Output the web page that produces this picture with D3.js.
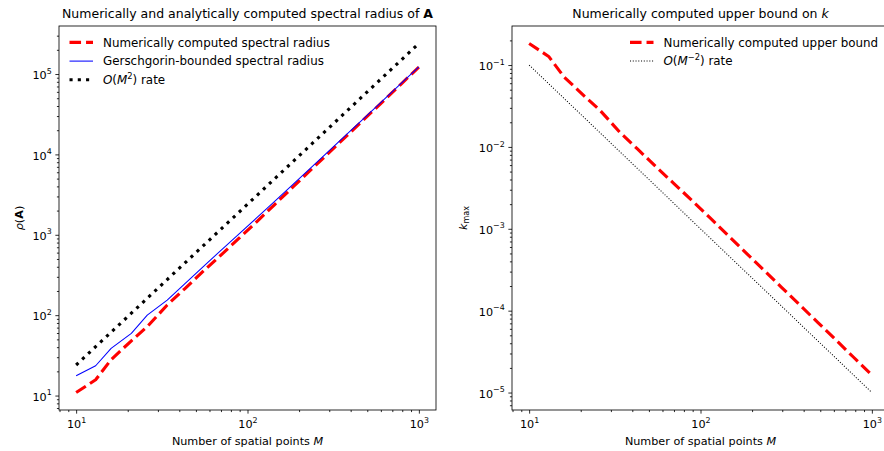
<!DOCTYPE html>
<html><head><meta charset="utf-8">
<script src="https://cdn.jsdelivr.net/npm/d3@7"></script>
<style>body{margin:0;background:#fff} text{font-family:"DejaVu Sans",sans-serif;fill:#000}</style>
</head><body><svg id="c" width="884" height="451"></svg>
<script>
// ---- data ----
const M = [10, 13, 16, 21, 26, 34, 43, 55, 70, 89, 113, 144, 183, 234, 298, 379, 483, 616, 785, 1000];
const rhoNumerical = [10.9, 15.7, 28, 48, 72, 134, 213, 350, 560, 900, 1450, 2380, 3880, 6400, 10450, 17000, 27800, 45500, 74500, 122000];
const rhoGerschgorin = [17.6, 23.5, 38.7, 59.5, 100, 154, 245, 400, 640, 1020, 1620, 2610, 4190, 6820, 11000, 17700, 28700, 46600, 75800, 122800];
const rateM2 = [24, 40.6, 61.4, 105.8, 162.2, 277.4, 443.8, 726, 1176, 1901, 3065, 4977, 8037, 13141, 21313, 34474, 55989, 91069, 147894, 240000];
const kMax = [0.1835, 0.1274, 0.0714, 0.0417, 0.0278, 0.01493, 0.00939, 0.00571, 0.00357, 0.00222, 0.00138, 0.00084, 0.000515, 0.0003125, 0.0001914, 0.0001176, 0.0000719, 0.0000440, 0.0000268, 0.0000164];
const rateMm2 = [0.1, 0.0592, 0.0391, 0.0227, 0.0148, 0.00865, 0.00541, 0.00331, 0.00204, 0.00126, 0.000783, 0.000482, 0.000299, 0.000183, 0.000113, 0.0000696, 0.0000429, 0.0000264, 0.0000162, 0.00001];
const xTickValues = [10, 100, 1000];
const xTickExp = ["1", "2", "3"];
const yTickValuesLeft = [10, 100, 1000, 10000, 100000];
const yTickExpLeft = ["1", "2", "3", "4", "5"];
const yTickValuesRight = [1e-1, 1e-2, 1e-3, 1e-4, 1e-5];
const yTickExpRight = ["\u22121", "\u22122", "\u22123", "\u22124", "\u22125"];
const legendLeft = ["Numerically computed spectral radius", "Gerschgorin-bounded spectral radius", "rate"];
const legendRight = ["Numerically computed upper bound", "rate"];

// ---- layout ----
const k = 1.04; // px per pt
const svg = d3.select("#c");
const TICKFS = 11.2, LEGFS = 11.9, LABFS = 11.2, TFS = 12.5, SUPFS = 7.9;
const plotTop = 26, plotBottom = 410, W = 377;

function logDomain(arrs) {
  const all = arrs.flat();
  const lo = Math.log10(d3.min(all)), hi = Math.log10(d3.max(all));
  const m = 0.05 * (hi - lo);
  return [Math.pow(10, lo - m), Math.pow(10, hi + m)];
}
function minors(dom) {
  const out = [];
  for (let d = Math.floor(Math.log10(dom[0])) - 1; d <= Math.ceil(Math.log10(dom[1])); d++)
    for (let m = 2; m <= 9; m++) { const v = m * Math.pow(10, d); if (v >= dom[0] && v <= dom[1]) out.push(v); }
  return out;
}
function supLabel(sel, exps, vals) {
  sel.selectAll(".tick text").each(function(d) {
    const t = d3.select(this); t.text(null);
    const i = vals.indexOf(d);
    t.append("tspan").text("10");
    t.append("tspan").attr("dy", -5.5).attr("font-size", SUPFS).text(exps[i]);
  });
}

function panel(cfg) {
  const g = svg.append("g");
  const x = d3.scaleLog().domain(logDomain([M])).range([cfg.x0, cfg.x0 + W]);
  const y = d3.scaleLog().domain(logDomain(cfg.series.map(s => s.v))).range([plotBottom, plotTop]);

  // minor ticks
  g.append("g").attr("transform", `translate(0,${plotBottom})`)
    .call(d3.axisBottom(x).tickValues(minors(x.domain())).tickSize(2 * k).tickSizeOuter(0).tickFormat(""))
    .call(a => a.select(".domain").remove());
  g.append("g").attr("transform", `translate(${cfg.x0},0)`)
    .call(d3.axisLeft(y).tickValues(minors(y.domain())).tickSize(2 * k).tickSizeOuter(0).tickFormat(""))
    .call(a => a.select(".domain").remove());
  // major ticks
  const ax = g.append("g").attr("transform", `translate(0,${plotBottom})`)
    .call(d3.axisBottom(x).tickValues(xTickValues).tickSize(3.5 * k).tickPadding(3.5 * k).tickSizeOuter(0).tickFormat(""));
  ax.select(".domain").remove();
  ax.selectAll(".tick text").attr("y", 18).attr("dy", 0).attr("font-size", TICKFS).attr("font-family", "DejaVu Sans");
  supLabel(ax, xTickExp, xTickValues);
  const ay = g.append("g").attr("transform", `translate(${cfg.x0},0)`)
    .call(d3.axisLeft(y).tickValues(cfg.yTicks).tickSize(3.5 * k).tickPadding(3.5 * k).tickSizeOuter(0).tickFormat(""));
  ay.select(".domain").remove();
  ay.selectAll(".tick text").attr("dy", 4.6).attr("font-size", TICKFS).attr("font-family", "DejaVu Sans");
  supLabel(ay, cfg.yExp, cfg.yTicks);
  g.selectAll(".tick line").attr("stroke", "#000").attr("stroke-width", 0.8 * k);

  // lines
  const line = d3.line().x((d, i) => x(M[i])).y(d => y(d));
  cfg.series.forEach(s => {
    g.append("path").attr("d", line(s.v)).attr("fill", "none").attr("stroke", s.color)
      .attr("stroke-width", s.lw * k).attr("stroke-dasharray", s.dash ? s.dash.map(v => v * s.lw * k).join(",") : null)
      .attr("stroke-linejoin", "round");
  });

  // spines
  g.append("rect").attr("x", cfg.x0).attr("y", plotTop).attr("width", W).attr("height", plotBottom - plotTop)
    .attr("fill", "none").attr("stroke", "#000").attr("stroke-width", 0.8 * k);

  // legend
  cfg.series.forEach((s, i) => {
    const ly = 42.4 + i * 18.7;
    g.append("line").attr("x1", cfg.lx).attr("x2", cfg.lx + 23.5).attr("y1", ly).attr("y2", ly)
      .attr("stroke", s.color).attr("stroke-width", s.lw * k)
      .attr("stroke-dasharray", s.dash ? s.dash.map(v => v * s.lw * k).join(",") : null);
    const t = g.append("text").attr("x", cfg.lx + 33.5).attr("y", ly + 4.1).attr("font-size", LEGFS);
    if (s.rate) {
      t.append("tspan").attr("font-style", "italic").text("O");
      t.append("tspan").text("(");
      t.append("tspan").attr("font-style", "italic").text("M");
      t.append("tspan").attr("dy", -5).attr("font-size", 8.3).text(s.rate);
      t.append("tspan").attr("dy", 5).text(") " + s.label);
    } else t.text(s.label);
  });

  // title
  const cx = cfg.x0 + W / 2;
  const tt = g.append("text").attr("x", cx).attr("y", 17.5).attr("text-anchor", "middle").attr("font-size", TFS);
  cfg.title(tt);
  // x label
  const xl = g.append("text").attr("x", cx).attr("y", 444.5).attr("text-anchor", "middle").attr("font-size", LABFS);
  xl.append("tspan").text("Number of spatial points ");
  xl.append("tspan").attr("font-style", "italic").text("M");
  // y label
  const yl = g.append("text").attr("transform", `translate(${cfg.ylx},${(plotTop + plotBottom) / 2}) rotate(-90)`)
    .attr("text-anchor", "middle").attr("font-size", LABFS);
  cfg.ylabel(yl);
}

panel({
  x0: 59, lx: 69.5,
  series: [
    {v: rhoNumerical, color: "#ff0000", lw: 3, dash: [3.7, 1.6], label: legendLeft[0]},
    {v: rhoGerschgorin, color: "#0000ff", lw: 1, dash: null, label: legendLeft[1]},
    {v: rateM2, color: "#000000", lw: 3, dash: [1, 1.65], label: legendLeft[2], rate: "2"}
  ],
  yTicks: yTickValuesLeft, yExp: yTickExpLeft,
  title: t => { t.append("tspan").text("Numerically and analytically computed spectral radius of "); t.append("tspan").attr("font-weight", "bold").text("A"); },
  ylx: 22.5,
  ylabel: t => { t.append("tspan").attr("font-style", "italic").text("\u03c1"); t.append("tspan").text("("); t.append("tspan").attr("font-weight", "bold").text("A"); t.append("tspan").text(")"); }
});
panel({
  x0: 512, lx: 630,
  series: [
    {v: kMax, color: "#ff0000", lw: 3, dash: [3.7, 1.6], label: legendRight[0]},
    {v: rateMm2, color: "#000000", lw: 1, dash: [1, 1.65], label: legendRight[1], rate: "\u22122"}
  ],
  yTicks: yTickValuesRight, yExp: yTickExpRight,
  title: t => { t.append("tspan").text("Numerically computed upper bound on "); t.append("tspan").attr("font-style", "italic").text("k"); },
  ylx: 467,
  ylabel: t => { t.append("tspan").attr("font-style", "italic").text("k"); t.append("tspan").attr("dy", 2.4).attr("font-size", 8).text("max"); }
});
</script></body></html>
